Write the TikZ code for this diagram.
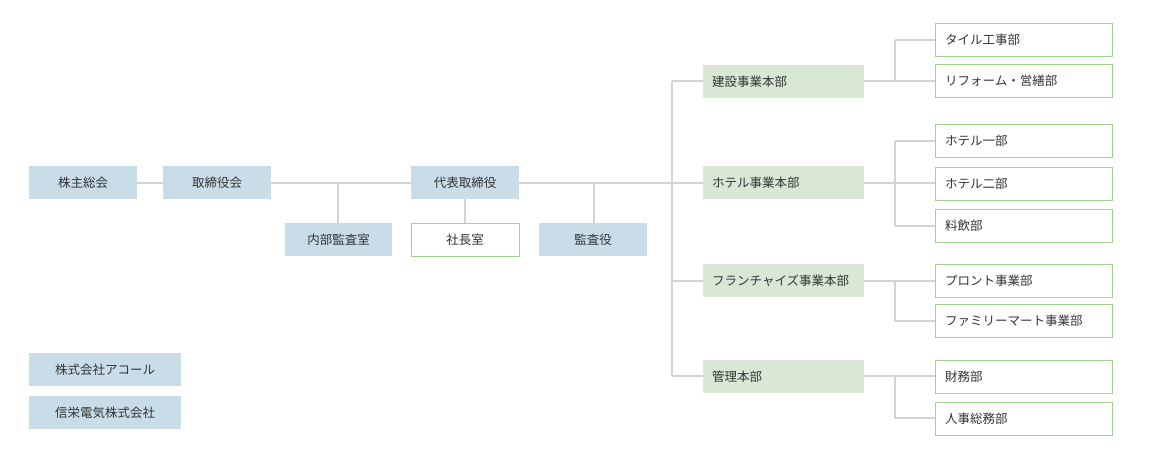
\documentclass[tikz,border=0pt]{standalone}
\usepackage{fontspec}
\setmainfont{Noto Sans CJK JP}
\definecolor{bluef}{HTML}{C9DDE9}
\definecolor{greenf}{HTML}{D9E8D5}
\definecolor{greenb}{HTML}{9ED48E}
\definecolor{linec}{HTML}{D3D3D3}
\begin{document}
\begin{tikzpicture}[x=1pt,y=-1pt,
  base/.style={font=\fontsize{12.5}{14}\selectfont, text=black!80, inner sep=0},
  conn/.style={draw=linec, line width=1.6pt}]
\useasboundingbox (0,0) rectangle (1150,458);
\newcommand{\bbox}[6]{% name, x1,y1,x2,y2, text (centered blue)
  \fill[bluef] (#2,#3) rectangle (#4,#5);
  \node[base] (#1) at ({(#2+#4)/2},{(#3+#5)/2}) {#6};}
\newcommand{\wbox}[6]{% white green border, left text
  \draw[greenb, fill=white, line width=1pt] (#2,#3) rectangle (#4,#5);
  \node[base, anchor=west] (#1) at ({#2+10},{(#3+#5)/2}) {#6};
  \coordinate (#1w) at (#2,{(#3+#5)/2});}
\newcommand{\gbox}[6]{% green fill, left text
  \fill[greenf] (#2,#3) rectangle (#4,#5);
  \node[base, anchor=west] (#1) at ({#2+9},{(#3+#5)/2}) {#6};
  \coordinate (#1w) at (#2,{(#3+#5)/2});
  \coordinate (#1e) at (#4,{(#3+#5)/2});}
% lines first
\coordinate (trtop) at (672,81);
\coordinate (trbot) at (672,376);
\draw[conn] (137,183) -- (703,183);
\draw[conn] (338,183) -- (338,223);
\draw[conn] (465,199) -- (465,223);
\draw[conn] (594,183) -- (594,223);
\draw[conn] (trtop) -- (trbot);
\foreach \y in {81,281,376} \draw[conn] (672,\y) -- (703,\y);
% right branches
\draw[conn] (864,81) -- (895,81); \draw[conn] (895,40) -- (895,81);
\draw[conn] (895,40) -- (935,40); \draw[conn] (895,81) -- (935,81);
\draw[conn] (864,183) -- (935,183); \draw[conn] (895,141) -- (895,226);
\draw[conn] (895,141) -- (935,141); \draw[conn] (895,226) -- (935,226);
\draw[conn] (864,281) -- (935,281); \draw[conn] (895,281) -- (895,321) -- (935,321);
\draw[conn] (864,376) -- (935,376); \draw[conn] (895,376) -- (895,418) -- (935,418);
% boxes
\bbox{kabu}{29}{166}{137}{199}{株主総会}
\bbox{tori}{163}{166}{271}{199}{取締役会}
\bbox{naibu}{285}{223}{392}{256}{内部監査室}
\bbox{daihyo}{411}{166}{519}{199}{代表取締役}
\draw[greenb, fill=white, line width=1pt] (411,223) rectangle (519,256);
\node[base] (shacho) at (465,239.5) {社長室};
\bbox{kansa}{539}{223}{647}{256}{監査役}
\bbox{akoru}{29}{353}{181}{386}{株式会社アコール}
\bbox{shinei}{29}{396}{181}{429}{信栄電気株式会社}
\gbox{kensetsu}{703}{65}{864}{98}{建設事業本部}
\gbox{hotel}{703}{166}{864}{199}{ホテル事業本部}
\gbox{fc}{703}{264}{864}{297}{フランチャイズ事業本部}
\gbox{kanri}{703}{360}{864}{393}{管理本部}
\wbox{tile}{935}{23}{1112}{56}{タイル工事部}
\wbox{reform}{935}{64}{1112}{97}{リフォーム・営繕部}
\wbox{h1}{935}{124}{1112}{157}{ホテル一部}
\wbox{h2}{935}{167}{1112}{200}{ホテル二部}
\wbox{ryoin}{935}{209}{1112}{242}{料飲部}
\wbox{pronto}{935}{264}{1112}{297}{プロント事業部}
\wbox{fm}{935}{304}{1112}{337}{ファミリーマート事業部}
\wbox{zaimu}{935}{360}{1112}{393}{財務部}
\wbox{jinji}{935}{402}{1112}{435}{人事総務部}
\end{tikzpicture}
\end{document}
